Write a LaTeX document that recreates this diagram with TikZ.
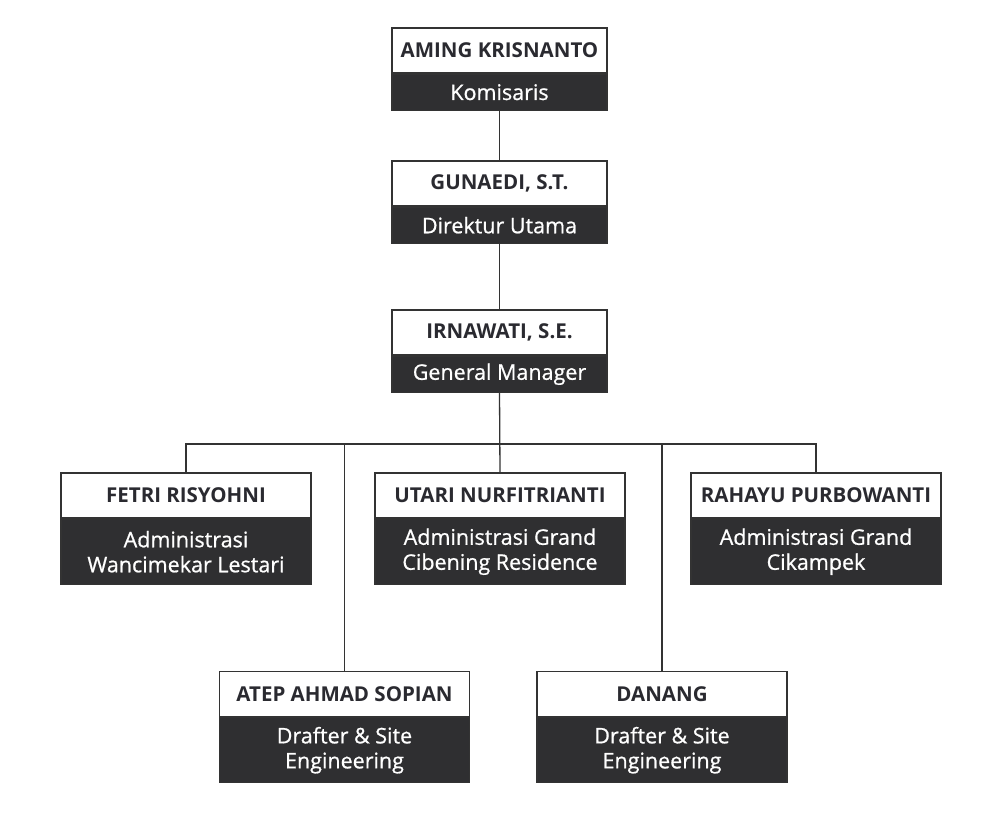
\documentclass[tikz,border=0pt]{standalone}
\usepackage{fontspec}
\setmainfont{Open Sans}
\definecolor{darkbox}{HTML}{2F2F31}
\definecolor{nametext}{HTML}{2A2A30}
\definecolor{linecol}{HTML}{333333}
\begin{document}
\begin{tikzpicture}[x=1pt,y=-1pt,
  namebox/.style={draw=linecol, line width=1.2pt, fill=white, text=nametext,
    font=\fontsize{20.5}{24}\selectfont\bfseries, inner sep=0pt, minimum height=45pt},
  rolebox/.style={draw=linecol, line width=1.2pt, fill=darkbox, text=white, anchor=north,
    font=\fontsize{21.5}{25}\selectfont\addfontfeature{FakeBold=0.8}, align=center, inner sep=0pt},
  conn/.style={draw=linecol, line width=1.3pt}]
\useasboundingbox (0,0) rectangle (1000,823);
\fill[white] (0,0) rectangle (1000,823);

% top chain
\node[namebox, minimum width=215pt] (n1) at (499.5,50.5) {AMING KRISNANTO};
\node[rolebox, minimum width=215pt, minimum height=36pt] (r1) at (n1.south) {Komisaris};
\node[namebox, minimum width=215pt] (n2) at (499.5,183.5) {GUNAEDI, S.T.};
\node[rolebox, minimum width=215pt, minimum height=36pt] (r2) at (n2.south) {Direktur Utama};
\node[namebox, minimum width=215pt] (n3) at (499.5,332.5) {IRNAWATI, S.E.};
\node[rolebox, minimum width=215pt, minimum height=36pt] (r3) at (n3.south) {General Manager};

% row 1
\node[namebox, minimum width=250pt] (n4) at (186,495.5) {FETRI RISYOHNI};
\node[rolebox, minimum width=250pt, minimum height=65pt] (r4) at (n4.south) {Administrasi\\Wancimekar Lestari};
\node[namebox, minimum width=250pt] (n5) at (500,495.5) {UTARI NURFITRIANTI};
\node[rolebox, minimum width=250pt, minimum height=65pt] (r5) at (n5.south) {Administrasi Grand\\Cibening Residence};
\node[namebox, minimum width=250pt] (n6) at (816,495.5) {RAHAYU PURBOWANTI};
\node[rolebox, minimum width=250pt, minimum height=65pt] (r6) at (n6.south) {Administrasi Grand\\Cikampek};

% row 2
\node[namebox, minimum width=250pt] (n7) at (344.5,694) {ATEP AHMAD SOPIAN};
\node[rolebox, minimum width=250pt, minimum height=65pt] (r7) at (n7.south) {Drafter \& Site\\Engineering};
\node[namebox, minimum width=250pt] (n8) at (662,694) {DANANG};
\node[rolebox, minimum width=250pt, minimum height=65pt] (r8) at (n8.south) {Drafter \& Site\\Engineering};

% connectors
\coordinate (bus) at (0,444);
\draw[conn] (r1.south) -- (n2.north);
\draw[conn] (r2.south) -- (n3.north);
\draw[conn] (r3.south) -- (n5.north);
\draw[conn] (n4.north) -- (n4.north |- bus) -- (n6.north |- bus) -- (n6.north);
\draw[conn] (n7.north |- bus) -- (n7.north);
\draw[conn] (n8.north |- bus) -- (n8.north);
\end{tikzpicture}
\end{document}
